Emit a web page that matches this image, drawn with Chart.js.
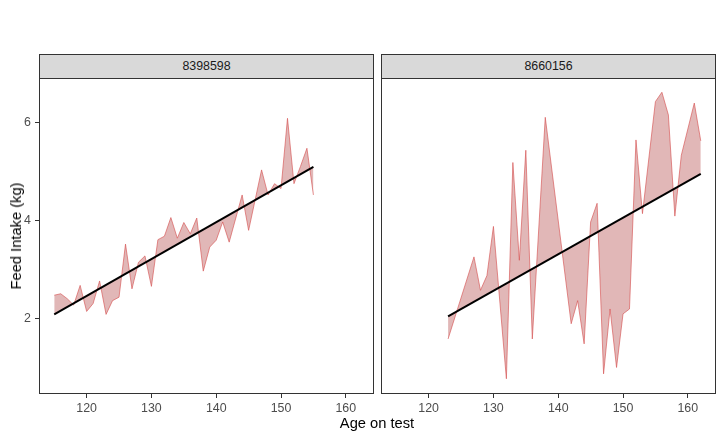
<!DOCTYPE html>
<html>
<head>
<meta charset="utf-8">
<title>Feed intake by age on test</title>
<script src="https://cdn.jsdelivr.net/npm/chart.js@4.4.1/dist/chart.umd.min.js"></script>
<style>
    body { margin: 0; background: #fff; font-family: "Liberation Sans", Arial, sans-serif; }
    #wrap { position: relative; width: 723px; height: 438px; overflow: hidden; background: #fff; }
    canvas { position: absolute; }
    .strip {
        position: absolute; top: 54px; height: 25px; box-sizing: border-box;
        background: #d9d9d9; border: 1px solid #333; color: #1a1a1a;
        font-size: 12.4px; line-height: 23px; text-align: center;
    }
    .title { position: absolute; color: #000; font-size: 14.7px; white-space: nowrap; }
</style>
</head>
<body>
<div id="wrap">
    <div class="strip" id="strip-left" style="left:39px; width:335px;"></div>
    <div class="strip" id="strip-right" style="left:381px; width:335px;"></div>
    <canvas id="leftPanel" width="374" height="341" style="left:0; top:78px;"></canvas>
    <canvas id="rightPanel" width="335" height="341" style="left:381px; top:78px;"></canvas>
    <div class="title" id="x-title" style="left:377px; top:423px; transform:translate(-50%,-50%);">Age on test</div>
    <div class="title" id="y-title" style="left:16px; top:236px; transform:translate(-50%,-50%) rotate(-90deg);">Feed Intake (kg)</div>
</div>

<script>
// Panel (animal) ids
const panelNames = ['8398598', '8660156'];

// Animal 8398598: daily feed intake
const leftDays = [115, 116, 117, 118, 119, 120, 121, 122, 123, 124, 125, 126, 127, 128, 129, 130,
    131, 132, 133, 134, 135, 136, 137, 138, 139, 140, 141, 142, 144, 145, 147, 148, 149, 150,
    151, 152, 153, 154, 155];
const leftIntake = [2.48, 2.51, 2.41, 2.28, 2.68, 2.15, 2.31, 2.77, 2.09, 2.37, 2.44, 3.52, 2.61, 3.15, 3.28, 2.66,
    3.61, 3.68, 4.06, 3.64, 3.96, 3.73, 4.05, 2.97, 3.46, 3.60, 3.97, 3.56, 4.52, 3.80, 5.03, 4.52, 4.75, 4.65,
    6.08, 4.75, 5.10, 5.47, 4.52];
// fitted line (start and end)
const leftFitDays = [115, 155];
const leftFit = [2.09, 5.09];

// Animal 8660156: daily feed intake
const rightDays = [123, 127, 128, 129, 130, 132, 133, 134, 135, 136, 138, 142, 143, 144, 145, 146,
    147, 148, 149, 150, 151, 152, 153, 155, 156, 157, 158, 159, 161, 162];
const rightIntake = [1.59, 3.26, 2.58, 2.88, 3.88, 0.78, 5.18, 3.19, 5.43, 1.59, 6.10, 1.90, 2.37, 1.49, 3.97, 4.35,
    0.88, 2.20, 1.01, 2.10, 2.20, 5.64, 4.14, 6.42, 6.61, 6.15, 4.09, 5.33, 6.39, 5.62];
const rightFitDays = [123, 162];
const rightFit = [2.05, 4.95];

// Axes
const xTicks = [120, 130, 140, 150, 160];
const yTicks = [2, 4, 6];
const xRange = [112.65, 164.35];
const yRange = [0.47, 6.90];

const fontFamily = '"Liberation Sans", Arial, sans-serif';

// Draw the dark panel border like ggplot theme_bw
const panelBorder = {
    id: 'panelBorder',
    afterDraw(chart) {
        const a = chart.chartArea;
        const ctx = chart.ctx;
        ctx.save();
        ctx.strokeStyle = '#333333';
        ctx.lineWidth = 1;
        ctx.strokeRect(a.left + 0.5, a.top + 0.5, a.width - 1, a.height - 1);
        ctx.restore();
    }
};

function toPoints(xs, ys) {
    return xs.map((x, i) => ({ x: x, y: ys[i] }));
}

function panelOptions(showY) {
    const grid = { display: true, drawOnChartArea: false, drawTicks: true, tickLength: 4, color: '#333333', lineWidth: 1 };
    return {
        responsive: false,
        animation: false,
        layout: { padding: 0 },
        plugins: { legend: { display: false }, tooltip: { enabled: false } },
        scales: {
            x: {
                type: 'linear',
                min: xRange[0],
                max: xRange[1],
                afterBuildTicks: function(scale) { scale.ticks = xTicks.map(v => ({ value: v })); },
                afterFit: function(scale) { scale.height = 25; scale.paddingLeft = 0; scale.paddingRight = 0; },
                grid: grid,
                border: { display: false },
                ticks: { color: '#4d4d4d', font: { size: 12.4, family: fontFamily }, padding: 3, maxRotation: 0, autoSkip: false }
            },
            y: {
                type: 'linear',
                display: showY,
                min: yRange[0],
                max: yRange[1],
                afterBuildTicks: function(scale) { scale.ticks = yTicks.map(v => ({ value: v })); },
                afterFit: function(scale) { scale.width = showY ? 39 : 0; scale.paddingTop = 0; scale.paddingBottom = 0; },
                grid: grid,
                border: { display: false },
                ticks: { color: '#4d4d4d', font: { size: 12.4, family: fontFamily }, padding: 4, autoSkip: false }
            }
        }
    };
}

function makePanel(canvasId, days, intake, fitDays, fit, showY) {
    return new Chart(document.getElementById(canvasId), {
        type: 'line',
        data: {
            datasets: [{
                label: 'Fitted',
                data: toPoints(fitDays, fit),
                borderColor: '#000000',
                borderWidth: 2,
                pointRadius: 0,
                fill: false,
                order: 0
            },
            {
                label: 'Feed intake',
                data: toPoints(days, intake),
                borderColor: 'rgba(214, 80, 80, 0.9)',
                borderWidth: 0.7,
                backgroundColor: 'rgba(170, 50, 50, 0.35)',
                pointRadius: 0,
                tension: 0,
                fill: { target: 0 },
                order: 1
            }]
        },
        options: panelOptions(showY),
        plugins: [panelBorder]
    });
}

document.getElementById('strip-left').textContent = panelNames[0];
document.getElementById('strip-right').textContent = panelNames[1];

makePanel('leftPanel', leftDays, leftIntake, leftFitDays, leftFit, true);
makePanel('rightPanel', rightDays, rightIntake, rightFitDays, rightFit, false);
</script>
</body>
</html>
